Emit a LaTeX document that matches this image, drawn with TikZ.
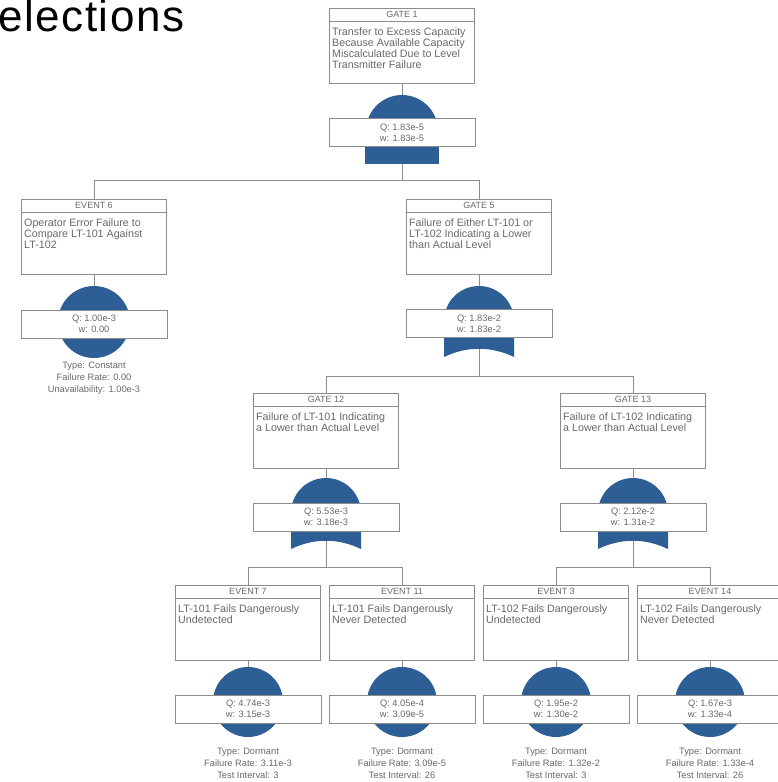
\documentclass[tikz,border=0pt]{standalone}
\usepackage{fontspec}
\setmainfont{Liberation Sans}
\newfontfamily\bigsans[LetterSpace=3.5]{Liberation Sans}
\definecolor{gblue}{RGB}{46,94,150}
\definecolor{lgray}{RGB}{140,140,140}
\definecolor{tgray}{RGB}{105,105,105}
\newcommand\hfont{\fontsize{9}{9}\selectfont}
\newcommand\dfont{\fontsize{10.7}{11}\selectfont}
\newcommand\qfont{\fontsize{9.3}{11}\selectfont}
\newcommand\ifont{\fontsize{9.3}{12}\selectfont}
\newcommand\ftbox[5]{%
  \node[ftbox] (#1) at (#2,#3) {};
  \draw[wire] ([yshift=-13pt]#1.north west) -- ([yshift=-13pt]#1.north east);
  \node[hdr] (#1h) at (#1.north) {#4};
  \node[desc] (#1d) at ([xshift=3pt,yshift=-20pt]#1.north west) {#5};
}
\newcommand\evsym[4]{% name, cx, cy, r
  \fill[gblue] (#2,#3) circle[radius=#4pt];
  \coordinate (#1t) at (#2,#3-#4);
  \coordinate (#1b) at (#2,#3+#4);
}
\newcommand\andsym[4]{% name, cx, cy, bottom
  \fill[gblue] (#2-36,#3) arc[start angle=180,end angle=0,radius=36pt] -- cycle;
  \fill[gblue] (#2-37,#3) rectangle (#2+37,#4);
  \coordinate (#1t) at (#2,#3-36);
  \coordinate (#1b) at (#2,#4);
}
\newcommand\orsym[4]{% name, cx, cy, edge bottom
  \fill[gblue] (#2-35,#3) arc[start angle=180,end angle=0,radius=35pt] -- cycle;
  \fill[gblue] (#2-35,#3) -- (#2-35,#4) .. controls (#2-12,#4-11) and (#2+12,#4-11) .. (#2+35,#4) -- (#2+35,#3) -- cycle;
  \coordinate (#1t) at (#2,#3-35);
  \coordinate (#1b) at (#2,#4-8);
}
\tikzset{
  ftbox/.style={draw=lgray, line width=1pt, fill=white, minimum width=145pt, minimum height=75pt, inner sep=0pt, anchor=north},
  qbox/.style={draw=lgray, line width=1pt, fill=white, minimum width=146pt, minimum height=28pt, inner sep=0pt, font=\qfont, text=tgray, align=center},
  hdr/.style={font=\hfont, text=tgray, anchor=north, inner sep=0pt, yshift=-3pt},
  desc/.style={font=\dfont, text=tgray, align=left, anchor=north west, inner sep=0pt},
  info/.style={font=\ifont, text=tgray, align=center, inner sep=0pt, anchor=north},
  wire/.style={draw=lgray, line width=1pt}
}
\begin{document}
\begin{tikzpicture}[x=1pt,y=-1pt]
\path[use as bounding box] (0,0) rectangle (777,782);
\fill[white] (0,0) rectangle (777,782);

% title fragment
\node[font=\bigsans\fontsize{44}{44}\selectfont, anchor=base west, inner sep=0pt] (ttl) at (-2,31) {elections};

% ---------- GATE 1 ----------
\ftbox{g1}{402}{8}{GATE 1}{Transfer to Excess Capacity\\Because Available Capacity\\Miscalculated Due to Level\\Transmitter Failure}
\andsym{g1s}{402}{131}{164}
\node[qbox] (g1q) at (402,132.5) {Q: 1.83e-5\\w: 1.83e-5};
\draw[wire] (g1.south) -- (g1st);
\coordinate (j1) at (402,180);
\draw[wire] (g1sb) -- (j1);

% ---------- EVENT 6 ----------
\ftbox{e6}{94}{199}{EVENT 6}{Operator Error Failure to\\Compare LT-101 Against\\LT-102}
\evsym{e6s}{94}{322}{36}
\node[qbox] (e6q) at (94,324) {Q: 1.00e-3\\w: 0.00};
\node[info] (e6i) at (94,362) {Type: Constant\\Failure Rate: 0.00\\Unavailability: 1.00e-3};
\draw[wire] (e6.south) -- (e6st);

% ---------- GATE 5 ----------
\ftbox{g5}{479}{199}{GATE 5}{Failure of Either LT-101 or\\LT-102 Indicating a Lower\\than Actual Level}
\orsym{g5s}{479}{321}{357}
\node[qbox] (g5q) at (479,323.5) {Q: 1.83e-2\\w: 1.83e-2};
\draw[wire] (g5.south) -- (g5st);
\draw[wire] (j1) -| (e6.north);
\draw[wire] (j1) -| (g5.north);
\coordinate (j2) at (479,376);
\draw[wire] (g5sb) -- (j2);

% ---------- GATE 12 ----------
\ftbox{g12}{326}{393}{GATE 12}{Failure of LT-101 Indicating\\a Lower than Actual Level}
\orsym{g12s}{326}{513}{549}
\node[qbox] (g12q) at (326,517) {Q: 5.53e-3\\w: 3.18e-3};
\draw[wire] (g12.south) -- (g12st);

% ---------- GATE 13 ----------
\ftbox{g13}{633}{393}{GATE 13}{Failure of LT-102 Indicating\\a Lower than Actual Level}
\orsym{g13s}{633}{513}{549}
\node[qbox] (g13q) at (633,517) {Q: 2.12e-2\\w: 1.31e-2};
\draw[wire] (g13.south) -- (g13st);
\draw[wire] (j2) -| (g12.north);
\draw[wire] (j2) -| (g13.north);
\coordinate (j3) at (326,567);
\coordinate (j4) at (633,567);
\draw[wire] (g12sb) -- (j3);
\draw[wire] (g13sb) -- (j4);

% ---------- EVENTS 7, 11, 3, 14 ----------
\ftbox{e7}{248}{585}{EVENT 7}{LT-101 Fails Dangerously\\Undetected}
\evsym{e7s}{248}{702}{35}
\node[qbox] (e7q) at (248,709) {Q: 4.74e-3\\w: 3.15e-3};
\node[info] (e7i) at (248,748) {Type: Dormant\\Failure Rate: 3.11e-3\\Test Interval: 3};
\draw[wire] (e7.south) -- (e7st);

\ftbox{e11}{402}{585}{EVENT 11}{LT-101 Fails Dangerously\\Never Detected}
\evsym{e11s}{402}{702}{35}
\node[qbox] (e11q) at (402,709) {Q: 4.05e-4\\w: 3.09e-5};
\node[info] (e11i) at (402,748) {Type: Dormant\\Failure Rate: 3.09e-5\\Test Interval: 26};
\draw[wire] (e11.south) -- (e11st);

\ftbox{e3}{556}{585}{EVENT 3}{LT-102 Fails Dangerously\\Undetected}
\evsym{e3s}{556}{702}{35}
\node[qbox] (e3q) at (556,709) {Q: 1.95e-2\\w: 1.30e-2};
\node[info] (e3i) at (556,748) {Type: Dormant\\Failure Rate: 1.32e-2\\Test Interval: 3};
\draw[wire] (e3.south) -- (e3st);

\ftbox{e14}{710}{585}{EVENT 14}{LT-102 Fails Dangerously\\Never Detected}
\evsym{e14s}{710}{702}{35}
\node[qbox] (e14q) at (710,709) {Q: 1.67e-3\\w: 1.33e-4};
\node[info] (e14i) at (710,748) {Type: Dormant\\Failure Rate: 1.33e-4\\Test Interval: 26};
\draw[wire] (e14.south) -- (e14st);

\draw[wire] (j3) -| (e7.north);
\draw[wire] (j3) -| (e11.north);
\draw[wire] (j4) -| (e3.north);
\draw[wire] (j4) -| (e14.north);
\end{tikzpicture}
\end{document}
